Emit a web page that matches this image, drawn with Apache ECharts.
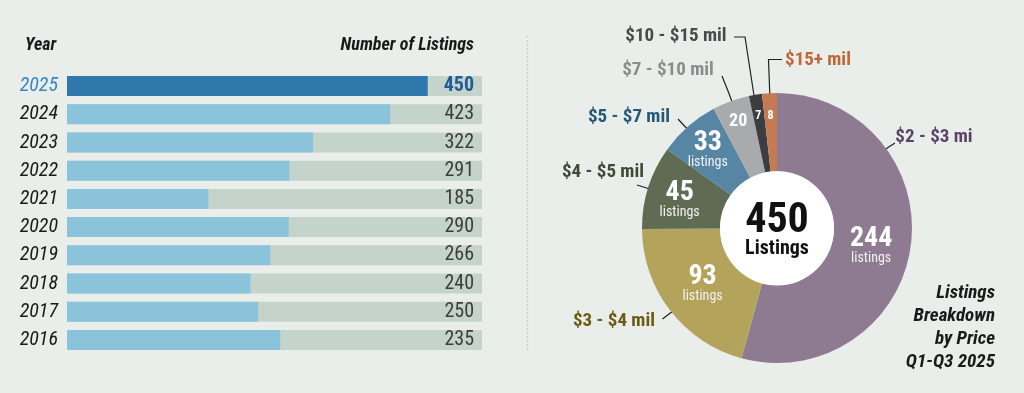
<!DOCTYPE html>
<html>
<head>
<meta charset="utf-8">
<script src="https://cdn.jsdelivr.net/npm/echarts@6/dist/echarts.min.js"></script>
<style>
html,body{margin:0;padding:0;background:#e9eeeb;}
#chart{width:1024px;height:393px;}
</style>
</head>
<body>
<div id="chart"></div>
<script>
// ---- Data ----
const years = ['2025','2024','2023','2022','2021','2020','2019','2018','2017','2016'];
const listings = [450, 423, 322, 291, 185, 290, 266, 240, 250, 235];
// bar lengths as drawn in the picture (2025 and 2016 bars are drawn longer than their labels)
const barLength = [472, 423, 322, 291, 185, 290, 266, 240, 250, 279];
const axisMax = 543;

const priceRanges = ['$2 - $3 mi', '$3 - $4 mil', '$4 - $5 mil', '$5 - $7 mil', '$7 - $10 mil', '$10 - $15 mil', '$15+ mil'];
const priceCounts = [244, 93, 45, 33, 20, 7, 8];
const sliceColors = ['#8e7b91', '#b3a35b', '#5f6b53', '#5686a3', '#a9aaac', '#3c3d40', '#c47b52'];
const labelColors = ['#5a4566', '#6b5b14', '#3e4a36', '#245878', '#8c8c8c', '#4a4a4a', '#c0673a'];
const noteLines = ['Listings', 'Breakdown', 'by Price', 'Q1-Q3 2025'];

const FONT = "'Roboto Condensed','Liberation Sans Narrow','DejaVu Sans Condensed',Roboto,sans-serif";
const total = priceCounts.reduce((a, b) => a + b, 0);

// label placement (layout only)
const outerLabelPos = [[934,137],[614,321],[603,172],[629,117],[668,70],[676,36],[818,60]];
const outerLinePts = [
  [[882,152],[888,147.5],[895,143]],
  [[676,309],[669,314],[662.5,319]],
  [[653,190],[645,187.5],[637,185]],
  [[690,132],[684,125.5],[678,119]],
  [[734,107],[728,91],[722,76]],
  [[755,102],[745,37],[734,37]],
  [[770,100],[768.5,59.5],[782,59.5]]
];
const innerShift = [[-4,5],[4,-4],[-3,2],[-4,-4],[-5,-13],[-3,-14],[-1,-13]];

const chart = echarts.init(document.getElementById('chart'), null, {renderer: 'canvas'});

const option = {
  animation: false,
  backgroundColor: '#e9eeeb',
  textStyle: {fontFamily: FONT},
  grid: {left: 67, top: 72, width: 415, height: 282},
  xAxis: {type: 'value', min: 0, max: axisMax, show: false},
  yAxis: {
    type: 'category', inverse: true,
    data: years.map((y, i) => i === 0 ? {value: y, textStyle: {color: '#3a87c0'}} : y),
    axisLine: {show: false}, axisTick: {show: false}, splitLine: {show: false},
    axisLabel: {margin: 9, fontSize: 20, fontStyle: 'italic', color: '#1a1a1a', fontFamily: FONT}
  },
  graphic: [
    {type: 'text', x: 25, y: 45, style: {text: 'Year', font: "italic bold 18px " + FONT, fill: '#1a1a1a', textAlign: 'left', textVerticalAlign: 'middle'}},
    {type: 'text', x: 474, y: 45, style: {text: 'Number of Listings', font: "italic bold 18px " + FONT, fill: '#1a1a1a', textAlign: 'right', textVerticalAlign: 'middle'}},
    {type: 'line', shape: {x1: 527.5, y1: 36, x2: 527.5, y2: 350}, style: {stroke: '#bfc8c2', lineWidth: 1.5, lineDash: [1.5, 2.5]}},
    ...noteLines.map((t, i) => ({type: 'text', x: 995, y: 293 + i * 23, style: {text: t, font: "italic bold 19px " + FONT, fill: '#1a1a1a', textAlign: 'right', textVerticalAlign: 'middle'}}))
  ],
  series: [
    {
      type: 'bar', barWidth: 20, silent: true,
      data: years.map(() => axisMax),
      itemStyle: {color: '#c5d4ca'},
      label: {
        show: true, position: 'insideRight', distance: 8,
        formatter: p => p.dataIndex === 0 ? '{hi|' + listings[p.dataIndex] + '}' : '{v|' + listings[p.dataIndex] + '}',
        rich: {
          hi: {fontSize: 20, fontWeight: 'bold', color: '#1f5c98', fontFamily: FONT},
          v: {fontSize: 20, color: '#3c3c3c', fontFamily: FONT}
        }
      }
    },
    {
      type: 'bar', barWidth: 20, barGap: '-100%', silent: true,
      data: barLength.map((v, i) => ({value: v, itemStyle: {color: i === 0 ? '#3078ab' : '#8ac3da'}})),
      label: {show: false}
    },
    // pie slices with inside value labels
    {
      type: 'pie', center: [777, 228], radius: [57, 135], startAngle: 90, clockwise: true,
      avoidLabelOverlap: false, silent: true,
      data: priceCounts.map((v, i) => ({value: v, name: priceRanges[i], itemStyle: {color: sliceColors[i]}})),
      label: {
        show: true, position: 'inside', color: '#fff', fontFamily: FONT,
        formatter: p => p.value >= 30 ? '{n|' + p.value + '}\n{s|listings}' : (p.value >= 15 ? '{m|' + p.value + '}' : '{t|' + p.value + '}'),
        rich: {
          n: {fontSize: 28, fontWeight: 'bold', color: '#fff', fontFamily: FONT, lineHeight: 25, align: 'center'},
          s: {fontSize: 14, color: '#f2f2f2', fontFamily: FONT, lineHeight: 14, align: 'center'},
          m: {fontSize: 18, fontWeight: 'bold', color: '#fff', fontFamily: FONT},
          t: {fontSize: 12, fontWeight: 'bold', color: '#fff', fontFamily: FONT}
        }
      },
      labelLine: {show: false},
      labelLayout: p => ({dx: innerShift[p.dataIndex][0], dy: innerShift[p.dataIndex][1]})
    },
    // transparent overlay carrying outside category labels
    {
      type: 'pie', center: [777, 228], radius: [57, 135], startAngle: 90, clockwise: true,
      avoidLabelOverlap: false, silent: true,
      data: priceCounts.map((v, i) => ({value: v, name: priceRanges[i], label: {color: labelColors[i]}})),
      itemStyle: {color: 'rgba(0,0,0,0)'},
      label: {show: true, position: 'outside', fontSize: 19, fontWeight: 'bold', fontFamily: FONT, formatter: '{b}'},
      labelLine: {show: true, length: 10, length2: 6, lineStyle: {color: '#222', width: 1.2}},
      labelLayout: p => ({
        x: outerLabelPos[p.dataIndex][0], y: outerLabelPos[p.dataIndex][1],
        align: 'center', verticalAlign: 'middle',
        labelLinePoints: outerLinePts[p.dataIndex]
      })
    },
    // center white disc with total
    {
      type: 'pie', center: [777, 228.5], radius: [0, 57], silent: true,
      data: [{value: 1, itemStyle: {color: '#ffffff'}}],
      label: {
        show: true, position: 'center',
        formatter: () => '{big|' + total + '}\n{small|Listings}',
        rich: {
          big: {fontSize: 42, fontWeight: 'bold', color: '#111', fontFamily: FONT, lineHeight: 41},
          small: {fontSize: 20, fontWeight: 'bold', color: '#111', fontFamily: FONT, lineHeight: 15}
        }
      },
      labelLine: {show: false}
    }
  ]
};
chart.setOption(option);
</script>
</body>
</html>
